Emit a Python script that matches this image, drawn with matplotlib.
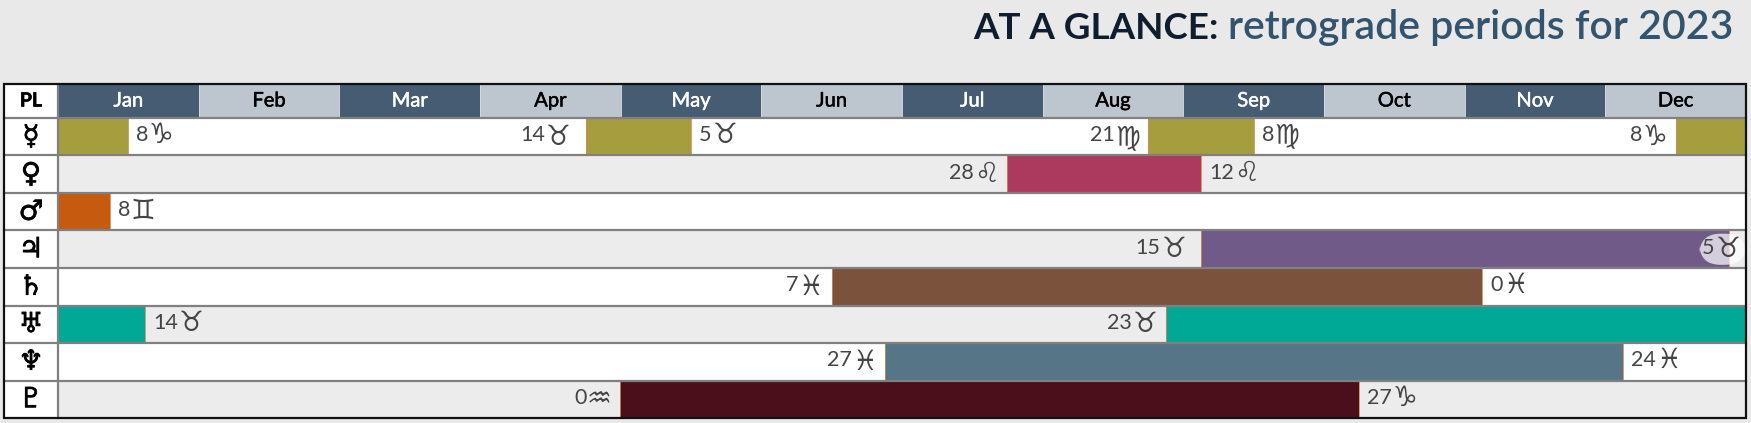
import matplotlib
matplotlib.use("Agg")
import matplotlib.pyplot as plt
from matplotlib.patches import Rectangle
import matplotlib.patheffects as pe

W, H = 1751, 423
months = ["Jan","Feb","Mar","Apr","May","Jun","Jul","Aug","Sep","Oct","Nov","Dec"]
planets = ["☿","♀","♂","♃","♄","♅","♆","♇"]
# retrograde shaded spans per planet, in months from 1 Jan
mercury = [(0,0.496),(3.75,4.5),(7.75,8.5),(11.5,12)]
venus = [(6.75,8.126)]
mars = [(0,0.368)]
jupiter = [(8.126,11.877)]
saturn = [(5.5,10.125)]
uranus = [(0,0.621),(7.874,12)]
neptune = [(5.88,11.125)]
pluto = [(3.995,9.25)]
spans = [mercury,venus,mars,jupiter,saturn,uranus,neptune,pluto]
colors = ["#a69d3f","#ab3a5e","#c65a0f","#705a88","#7b523c","#00a896","#567687","#4a0f1a"]
# (row, month position, degree, sign, side)
labels = [
 (0,0.496,"8","♑","r"),(0,3.75,"14","♉","l"),(0,4.5,"5","♉","r"),(0,7.75,"21","♍","l"),(0,8.5,"8","♍","r"),(0,11.5,"8","♑","l"),
 (1,6.75,"28","♌","l"),(1,8.126,"12","♌","r"),
 (2,0.368,"8","♊","r"),
 (3,8.126,"15","♉","l"),
 (4,5.5,"7","♓","l"),(4,10.125,"0","♓","r"),
 (5,0.621,"14","♉","r"),(5,7.874,"23","♉","l"),
 (6,5.88,"27","♓","l"),(6,11.125,"24","♓","r"),
 (7,3.995,"0","♒","l"),(7,9.25,"27","♑","r"),
]
jupiter_end = (3,12,"5","♉")
wide_gap = {(0,3.75),(3,8.126)}

fig = plt.figure(figsize=(W/100,H/100),dpi=100,facecolor="#e9e9e9")
L,R,T,B = 4,1746,118,418
ax = fig.add_axes([L/W,1-B/H,(R-L)/W,(B-T)/H])
mw = (1746-58)/12
rh = (B-T)/8
hdr = (118-84)/rh
pl = (58-L)/mw
ax.set_xlim(-pl,12); ax.set_ylim(8,0)
ax.axis("off")
kw = dict(clip_on=False)
px = 0.72
bold = lambda c,w: [pe.withStroke(linewidth=w,foreground=c)]

# header
ax.add_patch(Rectangle((-pl,-hdr),pl,hdr,fc="white",ec="none",**kw))
ax.text(-pl/2,-hdr/2,"PL",ha="center",va="center",fontsize=14,fontweight="bold",family="Lato",color="black",
        path_effects=bold("black",0.4))
for i,m in enumerate(months):
    dark = i%2==0
    c = "white" if dark else "black"
    ax.add_patch(Rectangle((i,-hdr),1,hdr,fc="#455c73" if dark else "#bdc6ce",ec="#d5dade",lw=0.6,**kw))
    ax.text(i+0.5,-hdr/2,m,ha="center",va="center",fontsize=14.5,family="Lato",color=c,zorder=5,
            path_effects=bold(c,0.35))

# rows
for r in range(8):
    ax.add_patch(Rectangle((-pl,r),pl,1,fc="white",ec="none",zorder=1))
    ax.add_patch(Rectangle((0,r),12,1,fc="white" if r%2==0 else "#ececec",ec="none",zorder=1))
    for a,b in spans[r]:
        ax.add_patch(Rectangle((a,r),b-a,1,fc=colors[r],ec="none",zorder=2))
        for e in (a,b):
            if 0<e<12:
                ax.plot([e,e],[r,r+1],color="#d08a50",lw=0.6,zorder=3)
    ax.text(-pl/2,r+0.5,planets[r],ha="center",va="center",fontsize=20,family="DejaVu Sans",
            color="black",zorder=6,path_effects=bold("black",0.5))

# separators and frame
for r in range(0,8):
    ax.plot([-pl,12],[r,r],color="#808080",lw=1.6,zorder=4,clip_on=False)
ax.plot([0,0],[-hdr,8],color="#808080",lw=1.6,zorder=4,clip_on=False)
ax.add_patch(Rectangle((-pl,-hdr),pl+12,hdr+8,fc="none",ec="#111111",lw=1.6,zorder=7,**kw))

# degree + sign labels, each as two texts so the sign can be larger
DG, SG = 15.5, 20
tc = "#444444"
def label(r,x,deg,sign,side,gap):
    if side=="r":
        d = ax.annotate(deg,(x,r+0.5),xytext=(gap*px,1),textcoords="offset points",ha="left",va="center",
                        fontsize=DG,family="Lato",color=tc,zorder=6)
        ax.annotate(sign,xy=(1,0.5),xycoords=d,xytext=(0.5,0),textcoords="offset points",ha="left",va="center",
                    fontsize=SG,family="DejaVu Sans",color=tc,zorder=6)
    else:
        s = ax.annotate(sign,(x,r+0.5),xytext=(-gap*px,0),textcoords="offset points",ha="right",va="center",
                        fontsize=SG,family="DejaVu Sans",color=tc,zorder=6)
        ax.annotate(deg,xy=(0,0.5),xycoords=s,xytext=(-0.5,1),textcoords="offset points",ha="right",va="center",
                    fontsize=DG,family="Lato",color=tc,zorder=6)
for r,x,deg,sign,side in labels:
    label(r,x,deg,sign,side,15 if (r,x) in wide_gap else 8)

r,x,deg,sign = jupiter_end
ax.text(11.835,r+0.5,"     ",fontsize=16,ha="center",va="center",zorder=5,
        bbox=dict(boxstyle="round,pad=0.25,rounding_size=0.95",fc="white",ec="none",alpha=0.7))
label(r,x,deg,sign,"l",6)

# title
fs = 29.5
t2 = fig.text(1733/W,1-39/H,"retrograde periods for 2023",ha="right",va="baseline",fontsize=fs,
              family="Lato",color="#33546f",fontweight="semibold")
fig.canvas.draw()
bb = t2.get_window_extent()
fig.text((bb.x0-9)/W,1-39/H,"AT A GLANCE:",ha="right",va="baseline",fontsize=26.5,
         family="Lato",color="#0f1e2e",fontweight="bold")
fig.savefig("out.png",dpi=100,facecolor=fig.get_facecolor())
